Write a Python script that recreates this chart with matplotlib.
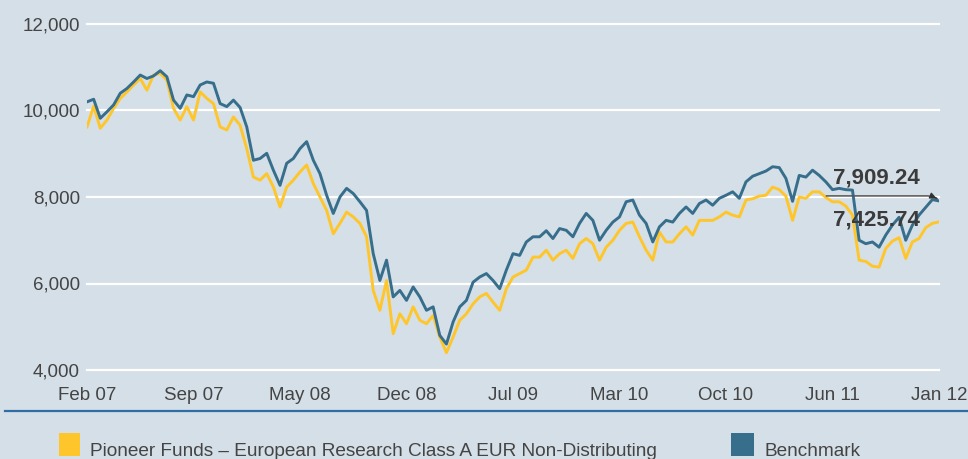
import numpy as np
import matplotlib
matplotlib.use('Agg')
import matplotlib.pyplot as plt
from matplotlib.patches import Rectangle
from matplotlib.lines import Line2D
from matplotlib.ticker import FuncFormatter

plt.rcParams['font.family'] = ['Liberation Sans', 'DejaVu Sans']

# fortnightly values, Feb 2007 -> Jan 2012
benchmark = [
    10200, 10260, 9820, 9970, 10130, 10400, 10510, 10660, 10820, 10740,
    10800, 10920, 10780, 10240, 10050, 10360, 10320, 10590, 10660, 10630,
    10160, 10090, 10240, 10070, 9620, 8850, 8890, 9010, 8620, 8270,
    8780, 8890, 9120, 9280, 8850, 8540, 8040, 7620, 8000, 8200,
    8080, 7890, 7690, 6690, 6070, 6540, 5690, 5840, 5610, 5920,
    5690, 5380, 5460, 4800, 4600, 5110, 5460, 5610, 6030, 6150,
    6230, 6070, 5880, 6310, 6690, 6650, 6960, 7080, 7080, 7220,
    7040, 7270, 7230, 7080, 7390, 7620, 7460, 7000, 7230, 7420,
    7540, 7890, 7930, 7580, 7390, 6960, 7310, 7460, 7420, 7620,
    7770, 7620, 7850, 7930, 7810, 7970, 8040, 8120, 7970, 8350,
    8480, 8540, 8600, 8700, 8680, 8430, 7900, 8500, 8460, 8620,
    8500, 8350, 8170, 8200, 8170, 8160, 7000, 6920, 6960, 6840,
    7120, 7350, 7530, 7000, 7350, 7580, 7760, 7940, 7909.24,
]

fund = [
    9620, 10100, 9590, 9780, 10050, 10280, 10430, 10590, 10740, 10470,
    10820, 10860, 10700, 10050, 9780, 10090, 9780, 10430, 10280, 10160,
    9620, 9550, 9850, 9660, 9120, 8460, 8390, 8540, 8230, 7770,
    8230, 8390, 8580, 8740, 8310, 8000, 7690, 7150, 7390, 7650,
    7540, 7390, 7080, 5840, 5380, 6070, 4840, 5300, 5070, 5460,
    5150, 5070, 5260, 4760, 4400, 4760, 5150, 5300, 5530, 5690,
    5770, 5570, 5380, 5880, 6150, 6230, 6310, 6610, 6610, 6770,
    6540, 6690, 6770, 6580, 6920, 7040, 6920, 6540, 6840, 7000,
    7230, 7390, 7420, 7080, 6770, 6540, 7190, 6960, 6960, 7150,
    7310, 7120, 7460, 7460, 7460, 7540, 7650, 7580, 7540, 7930,
    7960, 8020, 8040, 8230, 8170, 8020, 7460, 8000, 7970, 8120,
    8120, 7990, 7890, 7890, 7790, 7580, 6540, 6510, 6400, 6380,
    6810, 6980, 7060, 6580, 6960, 7040, 7290, 7390, 7425.74,
]

tick_labels = ['Feb 07', 'Sep 07', 'May 08', 'Dec 08', 'Jul 09',
               'Mar 10', 'Oct 10', 'Jun 11', 'Jan 12']
y_ticks = [4000, 6000, 8000, 10000, 12000]
fund_name = 'Pioneer Funds \u2013 European Research Class A EUR Non-Distributing'
bench_name = 'Benchmark'

bg = '#d5dfe7'
yellow = '#ffc62b'
blue = '#366e8b'
text_col = '#444444'

fig = plt.figure(figsize=(9.68, 4.59), dpi=100, facecolor=bg)
ax = fig.add_axes([87 / 968, 89 / 459, 852 / 968, 346 / 459])
ax.set_facecolor(bg)

x = np.arange(len(benchmark))
n = len(x) - 1

for yv in y_ticks:
    ax.axhline(yv, color='white', linewidth=1.6, clip_on=False, zorder=1)

ax.plot(x, fund, color=yellow, linewidth=2.1, zorder=3)
ax.plot(x, benchmark, color=blue, linewidth=2.1, zorder=4)

ax.set_xlim(0, n)
ax.set_ylim(4000, 12000)
ax.set_xticks(np.linspace(0, n, len(tick_labels)), tick_labels)
ax.set_yticks(y_ticks)
ax.yaxis.set_major_formatter(FuncFormatter(lambda v, p: f'{v:,.0f}'))
ax.tick_params(axis='both', length=0, labelsize=13.5, labelcolor=text_col)
ax.tick_params(axis='x', pad=12)
ax.tick_params(axis='y', pad=5)
for s in ax.spines.values():
    s.set_visible(False)

# end-value callouts
ax.plot([n - 16.9, n - 1.6, n - 0.3], [8025, 8025, 7965],
        color='#555555', linewidth=1.1, zorder=5)
ax.annotate('', xy=(n, benchmark[-1] + 40), xytext=(n - 0.8, 8000),
            arrowprops=dict(arrowstyle='-|>', color='#333333', lw=1,
                            mutation_scale=9), zorder=6)
ax.text(n - 9.4, 8435, f'{benchmark[-1]:,.2f}', ha='center', va='center',
        fontsize=16, fontweight='bold', color='#3b3b3b', zorder=7)
ax.text(n - 9.4, 7463, f'{fund[-1]:,.2f}', ha='center', va='center',
        fontsize=16, fontweight='bold', color='#3b3b3b', zorder=7)

# separator and legend
fig.add_artist(Line2D([5 / 968, 1], [48 / 459, 48 / 459], color='#2f6ea5',
                      linewidth=1.6, transform=fig.transFigure))
fig.add_artist(Rectangle((58.6 / 968, 3 / 459), 21.5 / 968, 23.5 / 459,
                         facecolor=yellow, edgecolor='none', transform=fig.transFigure))
fig.add_artist(Rectangle((731 / 968, 3 / 459), 23 / 968, 23.5 / 459,
                         facecolor=blue, edgecolor='none', transform=fig.transFigure))
fig.text(89.5 / 968, 3.5 / 459, fund_name, fontsize=13.7, color=text_col,
         ha='left', va='baseline')
fig.text(764 / 968, 3.5 / 459, bench_name, fontsize=13.7, color=text_col,
         ha='left', va='baseline')

fig.savefig('out.png', dpi=100, facecolor=bg)
